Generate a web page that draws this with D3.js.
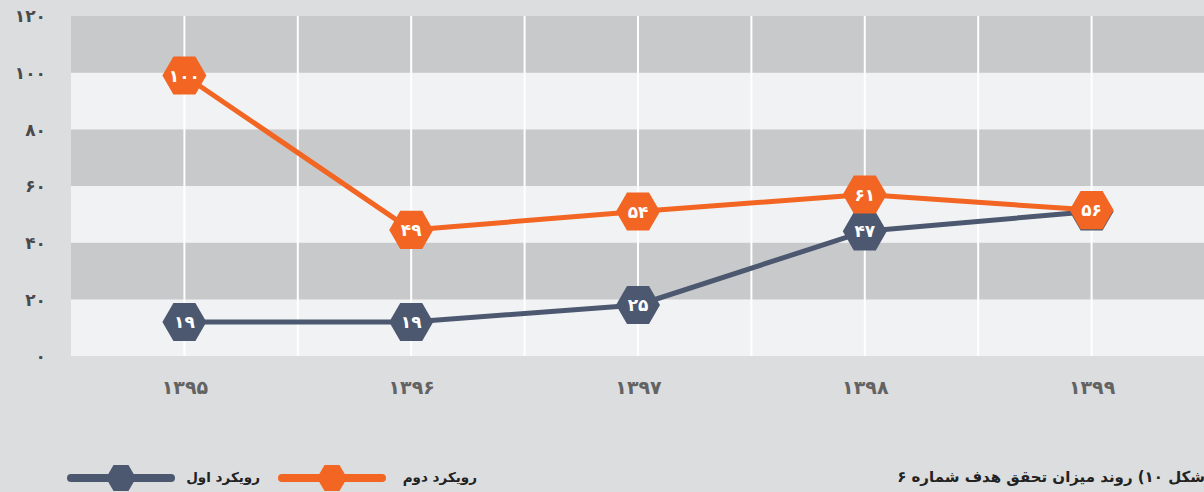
<!DOCTYPE html>
<html><head><meta charset="utf-8">
<script src="https://cdn.jsdelivr.net/npm/d3@7"></script>
<style>
html,body{margin:0;padding:0;background:#dcdddf;}
svg{display:block;font-family:"DejaVu Sans",sans-serif;}
</style></head>
<body><svg id="c" width="1204" height="492"></svg>
<script>
// Data
const years = ["۱۳۹۵","۱۳۹۶","۱۳۹۷","۱۳۹۸","۱۳۹۹"];
const seriesNames = ["رویکرد اول","رویکرد دوم"];
const valuesFirst = [12, 12, 18, 44, 51];      // plotted positions (blue)
const valuesSecond = [99, 44.5, 51, 57, 51.5]; // plotted positions (orange)
const labelsFirst = ["۱۹","۱۹","۲۵","۴۷",""];
const labelsSecond = ["۱۰۰","۴۹","۵۴","۶۱","۵۶"];
const yTicks = [0,20,40,60,80,100,120];
const caption = "شکل ۱۰) روند میزان تحقق هدف شماره ۶";

const colors = {first:"#4c5870", second:"#f26522"};
const fa = n => String(n).replace(/\d/g, d => "۰۱۲۳۴۵۶۷۸۹"[d]);

const svg = d3.select("#c");
const L = 71, R = 1205, T = 16, B = 356;
const x = d3.scalePoint().domain(years).range([L, R]).padding(0.5);
const y = d3.scaleLinear().domain([0,120]).range([B, T]);

// bands
const g = svg.append("g");
for (let i = 0; i < yTicks.length-1; i++) {
  const a = yTicks[i], b = yTicks[i+1];
  g.append("rect").attr("x", L).attr("width", R-L)
    .attr("y", y(b)).attr("height", y(a)-y(b))
    .attr("fill", (i % 2 === 0) ? "#f1f2f4" : "#c8c9cb");
}
// vertical gridlines at point centers and half steps
const step = x.step();
years.forEach(yr => {
  [x(yr), x(yr) + step/2].forEach(px => {
    if (px < R - 1) g.append("line").attr("x1", px).attr("x2", px)
      .attr("y1", T).attr("y2", B).attr("stroke", "#ffffff").attr("stroke-width", 2);
  });
});

// y axis
const yAxis = d3.axisLeft(y).tickValues(yTicks).tickFormat(fa).tickSize(0).tickPadding(0);
const ya = svg.append("g").attr("transform", "translate(46,0)").call(yAxis);
ya.select(".domain").remove();
ya.selectAll("text").attr("font-size", 17).attr("font-weight", "bold").attr("fill", "#4a4a4a")
  .attr("font-family", "DejaVu Sans").attr("dy", "0.35em");

// x axis
const xAxis = d3.axisBottom(x).tickSize(0).tickPadding(0);
const xa = svg.append("g").attr("transform", "translate(0,380)").call(xAxis);
xa.select(".domain").remove();
xa.selectAll("text").attr("font-size", 19).attr("font-weight", "bold").attr("fill", "#636363")
  .attr("font-family", "DejaVu Sans").attr("dy", "0.71em");

const hex = r => {
  const pts = d3.range(6).map(k => {
    const a = Math.PI/3*k;
    return [r*Math.cos(a), r*Math.sin(a)];
  });
  return "M" + pts.map(p => p.join(",")).join("L") + "Z";
};

function drawSeries(vals, labels, color) {
  const line = d3.line().x((d,i) => x(years[i])).y(d => y(d));
  svg.append("path").datum(vals).attr("d", line).attr("fill", "none")
    .attr("stroke", color).attr("stroke-width", 5).attr("stroke-linejoin", "round");
  const pg = svg.append("g");
  vals.forEach((v, i) => {
    const gg = pg.append("g").attr("transform", `translate(${x(years[i])},${y(v)})`);
    gg.append("path").attr("d", hex(22)).attr("fill", color);
    gg.append("text").text(labels[i]).attr("text-anchor", "middle").attr("dy", "0.36em")
      .attr("fill", "#fff").attr("font-size", 17).attr("font-weight", "bold");
  });
}
drawSeries(valuesFirst, labelsFirst, colors.first);
drawSeries(valuesSecond, labelsSecond, colors.second);

// legend
const leg = [
  {name: seriesNames[0], color: colors.first, x1: 71, x2: 171, cx: 121, tx: 260},
  {name: seriesNames[1], color: colors.second, x1: 282, x2: 382, cx: 332, tx: 477}
];
leg.forEach(l => {
  svg.append("line").attr("x1", l.x1).attr("x2", l.x2).attr("y1", 478).attr("y2", 478)
    .attr("stroke", l.color).attr("stroke-width", 8).attr("stroke-linecap", "round");
  svg.append("path").attr("d", hex(15)).attr("transform", `translate(${l.cx},478)`).attr("fill", l.color);
  svg.append("text").text(l.name).attr("x", l.tx).attr("y", 482).attr("text-anchor", "start")
    .attr("direction", "rtl").attr("font-size", 13.5).attr("font-weight", "bold").attr("fill", "#222");
});
svg.append("text").text(caption).attr("x", 1205).attr("y", 482).attr("text-anchor", "start")
  .attr("direction", "rtl").attr("font-size", 15).attr("font-weight", "bold").attr("fill", "#222");
</script></body></html>
